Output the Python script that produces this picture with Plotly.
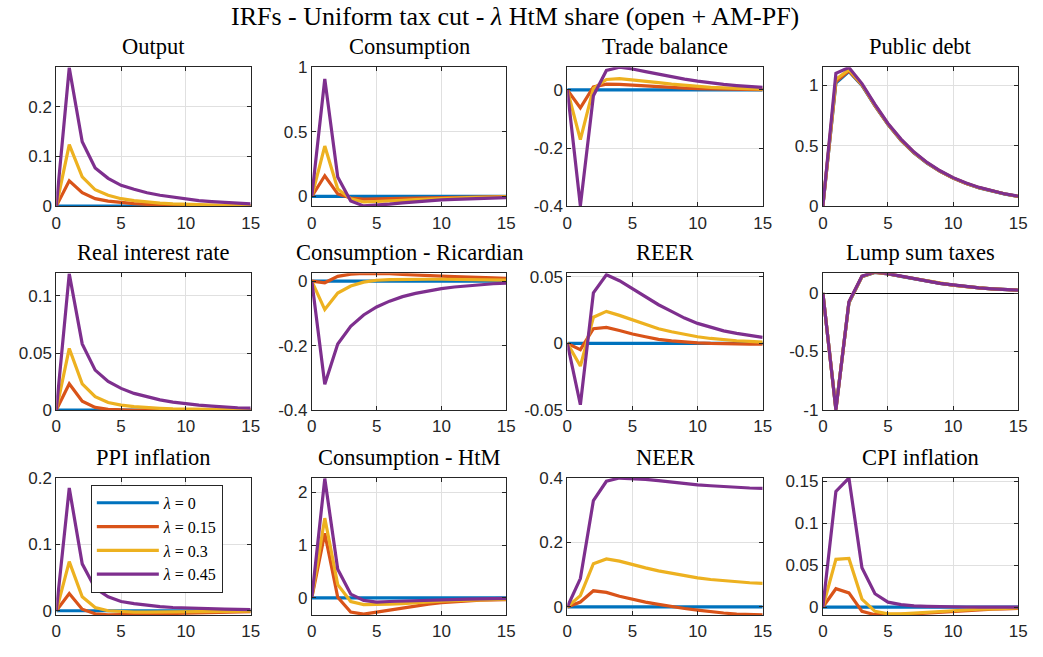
import plotly.graph_objects as go

W, H = 1043, 657

# horizon
t = [0, 1, 2, 3, 4, 5, 6, 7, 8, 9, 10, 11, 12, 13, 14, 15]
series_names = ["<i>λ</i> = 0", "<i>λ</i> = 0.15", "<i>λ</i> = 0.3", "<i>λ</i> = 0.45"]
colors = ["#0072BD", "#D95319", "#EDB120", "#7E2F8E"]

zero = [0, 0, 0, 0, 0, 0, 0, 0, 0, 0, 0, 0, 0, 0, 0, 0]

# Output
out_15 = [0, 0.051, 0.027, 0.015, 0.010, 0.007, 0.005, 0.0035, 0.0025, 0.0018, 0.0013, 0.001, 0.0007, 0.0005, 0.0004, 0.0003]
out_30 = [0, 0.124, 0.059, 0.033, 0.022, 0.015, 0.011, 0.008, 0.006, 0.0045, 0.0035, 0.0027, 0.002, 0.0016, 0.0012, 0.001]
out_45 = [0, 0.279, 0.13, 0.077, 0.056, 0.042, 0.034, 0.027, 0.022, 0.018, 0.014, 0.011, 0.009, 0.007, 0.0055, 0.0045]

# Consumption
con_15 = [0, 0.16, 0.02, -0.012, -0.02, -0.02, -0.018, -0.015, -0.012, -0.01, -0.008, -0.006, -0.005, -0.004, -0.003, -0.002]
con_30 = [0, 0.39, 0.058, -0.018, -0.043, -0.04, -0.035, -0.03, -0.024, -0.019, -0.015, -0.012, -0.009, -0.007, -0.005, -0.004]
con_45 = [0, 0.91, 0.15, -0.035, -0.073, -0.068, -0.06, -0.05, -0.041, -0.033, -0.027, -0.022, -0.018, -0.014, -0.011, -0.009]

# Trade balance
tb_15 = [0, -0.062, 0.01, 0.02, 0.019, 0.016, 0.013, 0.01, 0.008, 0.006, 0.0045, 0.0035, 0.0025, 0.0018, 0.0012, 0.0008]
tb_30 = [0, -0.171, 0.005, 0.036, 0.039, 0.035, 0.03, 0.025, 0.02, 0.016, 0.012, 0.009, 0.007, 0.005, 0.004, 0.003]
tb_45 = [0, -0.399, -0.02, 0.067, 0.078, 0.072, 0.063, 0.054, 0.045, 0.037, 0.03, 0.024, 0.019, 0.015, 0.012, 0.009]

# Public debt
pd_0 = [0, 1.02, 1.115, 1.0, 0.83, 0.675, 0.545, 0.44, 0.355, 0.287, 0.232, 0.187, 0.151, 0.122, 0.099, 0.08]
pd_15 = [0, 1.03, 1.12, 1.003, 0.832, 0.677, 0.547, 0.442, 0.357, 0.288, 0.233, 0.188, 0.152, 0.123, 0.1, 0.081]
pd_30 = [0, 1.05, 1.13, 1.008, 0.836, 0.68, 0.55, 0.444, 0.359, 0.29, 0.234, 0.189, 0.153, 0.124, 0.1, 0.081]
pd_45 = [0, 1.10, 1.148, 1.015, 0.842, 0.685, 0.555, 0.448, 0.362, 0.293, 0.236, 0.191, 0.155, 0.125, 0.101, 0.082]

# Real interest rate
rr_15 = [0, 0.023, 0.0077, 0.0023, 0.0006, -0.0002, -0.0003, -0.0003, -0.0003, -0.0002, -0.0002, -0.0002, -0.0001, -0.0001, -0.0001, -0.0001]
rr_30 = [0, 0.054, 0.023, 0.0117, 0.0066, 0.0043, 0.003, 0.002, 0.0015, 0.001, 0.0008, 0.0006, 0.0005, 0.0004, 0.0003, 0.0002]
rr_45 = [0, 0.1195, 0.058, 0.035, 0.025, 0.019, 0.0146, 0.0114, 0.0089, 0.0069, 0.0054, 0.0043, 0.0034, 0.0026, 0.002, 0.0017]

# Consumption - Ricardian
cr_15 = [0, -0.005, 0.015, 0.022, 0.024, 0.024, 0.023, 0.021, 0.02, 0.018, 0.016, 0.014, 0.012, 0.011, 0.01, 0.009]
cr_30 = [0, -0.088, -0.037, -0.015, -0.003, 0.003, 0.005, 0.006, 0.006, 0.006, 0.006, 0.005, 0.005, 0.004, 0.004, 0.003]
cr_45 = [0, -0.32, -0.195, -0.14, -0.105, -0.08, -0.062, -0.048, -0.038, -0.03, -0.023, -0.018, -0.014, -0.011, -0.008, -0.006]

# REER
re_15 = [0, -0.0047, 0.011, 0.012, 0.0097, 0.007, 0.005, 0.003, 0.0019, 0.001, 0.0004, 0, -0.0003, -0.0004, -0.0005, -0.0005]
re_30 = [0, -0.017, 0.0196, 0.024, 0.021, 0.0177, 0.014, 0.011, 0.0087, 0.0066, 0.005, 0.0037, 0.0027, 0.002, 0.0015, 0.001]
re_45 = [0, -0.046, 0.038, 0.0515, 0.047, 0.041, 0.035, 0.029, 0.024, 0.019, 0.015, 0.012, 0.0094, 0.0075, 0.006, 0.0045]

# Lump sum taxes
ls_0 = [0, -0.99, -0.085, 0.14, 0.176, 0.163, 0.142, 0.121, 0.1, 0.082, 0.067, 0.054, 0.044, 0.036, 0.03, 0.024]
ls_15 = [0, -0.993, -0.082, 0.141, 0.177, 0.164, 0.143, 0.122, 0.101, 0.082, 0.068, 0.054, 0.044, 0.036, 0.03, 0.024]
ls_30 = [0, -0.996, -0.079, 0.142, 0.178, 0.165, 0.143, 0.123, 0.101, 0.083, 0.068, 0.055, 0.044, 0.036, 0.03, 0.025]
ls_45 = [0, -1.0, -0.075, 0.144, 0.18, 0.166, 0.144, 0.124, 0.102, 0.083, 0.069, 0.055, 0.044, 0.036, 0.03, 0.025]

# PPI inflation
ppi_15 = [0, 0.026, 0.0024, -0.0045, -0.006, -0.006, -0.0055, -0.005, -0.0045, -0.004, -0.0035, -0.003, -0.0025, -0.002, -0.0018, -0.0015]
ppi_30 = [0, 0.074, 0.021, 0.0049, 0.0, -0.0015, -0.002, -0.002, -0.0018, -0.0015, -0.0012, -0.001, -0.0008, -0.0006, -0.0005, -0.0004]
ppi_45 = [0, 0.185, 0.0707, 0.034, 0.021, 0.014, 0.0107, 0.0083, 0.0063, 0.0049, 0.004, 0.0033, 0.0028, 0.0024, 0.002, 0.0018]

# Consumption - HtM
htm_15 = [0, 1.22, 0.01, -0.27, -0.31, -0.27, -0.23, -0.19, -0.15, -0.12, -0.09, -0.07, -0.055, -0.045, -0.04, -0.035]
htm_30 = [0, 1.51, 0.25, -0.07, -0.13, -0.13, -0.12, -0.11, -0.09, -0.08, -0.065, -0.055, -0.045, -0.035, -0.03, -0.025]
htm_45 = [0, 2.26, 0.54, 0.07, -0.05, -0.08, -0.07, -0.06, -0.05, -0.04, -0.035, -0.03, -0.025, -0.02, -0.015, -0.012]

# NEER
neer_15 = [0, 0.015, 0.05, 0.045, 0.033, 0.023, 0.015, 0.008, 0.001, -0.005, -0.01, -0.015, -0.019, -0.022, -0.024, -0.025]
neer_30 = [0, 0.035, 0.134, 0.149, 0.142, 0.131, 0.121, 0.112, 0.104, 0.097, 0.09, 0.085, 0.081, 0.078, 0.075, 0.073]
neer_45 = [0, 0.088, 0.33, 0.39, 0.40, 0.399, 0.396, 0.392, 0.387, 0.383, 0.379, 0.376, 0.373, 0.371, 0.369, 0.368]

# CPI inflation
cpi_15 = [0, 0.022, 0.017, -0.005, -0.009, -0.009, -0.0085, -0.008, -0.007, -0.006, -0.005, -0.004, -0.003, -0.0025, -0.002, -0.0015]
cpi_30 = [0, 0.057, 0.058, 0.0096, -0.005, -0.008, -0.008, -0.007, -0.006, -0.005, -0.004, -0.003, -0.0025, -0.002, -0.0015, -0.001]
cpi_45 = [0, 0.138, 0.154, 0.047, 0.016, 0.006, 0.003, 0.0015, 0.001, 0.0005, 0.0003, 0.0002, 0.0001, 0.0001, 0, 0]

# panel titles, series, y ranges and ticks
panels = [
    ("Output", [zero, out_15, out_30, out_45], [0, 0.28], [0, 0.1, 0.2], ["0", "0.1", "0.2"]),
    ("Consumption", [zero, con_15, con_30, con_45], [-0.075, 1.0], [0, 0.5, 1], ["0", "0.5", "1"]),
    ("Trade balance", [zero, tb_15, tb_30, tb_45], [-0.4, 0.078], [-0.4, -0.2, 0], ["-0.4", "-0.2", "0"]),
    ("Public debt", [pd_0, pd_15, pd_30, pd_45], [0, 1.15], [0, 0.5, 1], ["0", "0.5", "1"]),
    ("Real interest rate", [zero, rr_15, rr_30, rr_45], [0, 0.12], [0, 0.05, 0.1], ["0", "0.05", "0.1"]),
    ("Consumption - Ricardian", [zero, cr_15, cr_30, cr_45], [-0.4, 0.025], [-0.4, -0.2, 0], ["-0.4", "-0.2", "0"]),
    ("REER", [zero, re_15, re_30, re_45], [-0.05, 0.0527], [-0.05, 0, 0.05], ["-0.05", "0", "0.05"]),
    ("Lump sum taxes", [ls_0, ls_15, ls_30, ls_45], [-1, 0.17], [-1, -0.5, 0], ["-1", "-0.5", "0"]),
    ("PPI inflation", [zero, ppi_15, ppi_30, ppi_45], [-0.0063, 0.2], [0, 0.1, 0.2], ["0", "0.1", "0.2"]),
    ("Consumption - HtM", [zero, htm_15, htm_30, htm_45], [-0.325, 2.27], [0, 1, 2], ["0", "1", "2"]),
    ("NEER", [zero, neer_15, neer_30, neer_45], [-0.025, 0.4], [0, 0.2, 0.4], ["0", "0.2", "0.4"]),
    ("CPI inflation", [zero, cpi_15, cpi_30, cpi_45], [-0.0093, 0.154], [0, 0.05, 0.1, 0.15], ["0", "0.05", "0.1", "0.15"]),
]

x_ticks = [0, 5, 10, 15]
x_ticktext = ["0", "5", "10", "15"]

# layout geometry (pixels)
cols_px = [(52, 249), (311, 508), (570, 768), (829, 1027)]
rows_px = [(60, 203), (272, 413), (483, 624)]

AXC = "#262626"
GRID = "#e0e0e0"
TICKFONT = dict(family="Liberation Sans, Arial, sans-serif", size=17, color=AXC)
SERIF = "Liberation Serif, Times New Roman, serif"

fig = go.Figure()
layout = dict(
    width=W, height=H,
    margin=dict(l=0, r=0, t=0, b=0),
    paper_bgcolor="white", plot_bgcolor="white",
    showlegend=True,
    annotations=[],
)

for i, (title, ys, yr, yt, ytt) in enumerate(panels):
    r, c = divmod(i, 4)
    k = "" if i == 0 else str(i + 1)
    x0, x1 = cols_px[c]
    y0, y1 = rows_px[r]
    layout["xaxis" + k] = dict(
        domain=[x0 / W, x1 / W], anchor="y" + k, range=[0, 15],
        tickvals=x_ticks, ticktext=x_ticktext, ticks="inside", ticklen=4, tickcolor=AXC,
        showline=True, linecolor=AXC, linewidth=1, mirror="ticks",
        showgrid=True, gridcolor=GRID, gridwidth=1, zeroline=False,
        tickfont=TICKFONT, fixedrange=True, ticklabelstandoff=1,
    )
    layout["yaxis" + k] = dict(
        domain=[1 - y1 / H, 1 - y0 / H], anchor="x" + k, range=yr,
        tickvals=yt, ticktext=ytt, ticks="inside", ticklen=4, tickcolor=AXC,
        showline=True, linecolor=AXC, linewidth=1, mirror="ticks",
        showgrid=True, gridcolor=GRID, gridwidth=1,
        zeroline=True, zerolinecolor="black", zerolinewidth=1,
        tickfont=TICKFONT, fixedrange=True,
    )
    layout["annotations"].append(dict(
        text=title, x=(x0 + x1) / 2 / W, y=1 - y0 / H, xref="paper", yref="paper",
        xanchor="center", yanchor="bottom", yshift=7, borderpad=0, showarrow=False,
        font=dict(family=SERIF, size=22.5, color="black"),
    ))
    for j, yv in enumerate(ys):
        fig.add_trace(go.Scatter(
            x=t, y=yv, mode="lines", name=series_names[j],
            line=dict(color=colors[j], width=3.2),
            xaxis="x" + k, yaxis="y" + k,
            showlegend=(i == 8), legendgroup=str(j),
        ))

layout["annotations"].append(dict(
    text="IRFs - Uniform tax cut - <i>λ</i> HtM share (open + AM-PF)",
    x=517 / W, y=1 - 8 / H, xref="paper", yref="paper",
    xanchor="center", yanchor="middle", borderpad=0, showarrow=False,
    font=dict(family=SERIF, size=26, color="black"),
))

layout["legend"] = dict(
    x=87 / W, y=1 - 490 / H, xanchor="left", yanchor="top",
    bgcolor="white", bordercolor=AXC, borderwidth=1,
    font=dict(family=SERIF, size=16, color="black"),
    itemwidth=62, tracegroupgap=0,
)

fig.update_layout(**layout)
fig.write_html("out.html")
